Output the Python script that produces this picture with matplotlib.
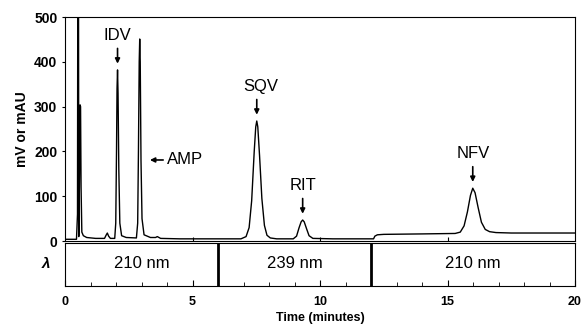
import matplotlib.pyplot as plt
from matplotlib.ticker import MultipleLocator

plt.rcParams['font.family'] = ['Liberation Sans', 'DejaVu Sans']

# chromatogram trace (time in min, signal in mV)
time_min = [0.00, 0.45, 0.49, 0.50, 0.53, 0.54, 0.57, 0.59, 0.61, 0.63, 0.66, 0.72, 0.85, 1.20,
            1.55, 1.61, 1.66, 1.71, 1.78, 1.95, 1.99, 2.02, 2.04, 2.06, 2.08, 2.11, 2.15, 2.22, 2.40,
            2.80, 2.85, 2.88, 2.91, 2.93, 2.95, 2.98, 3.02, 3.10, 3.35, 3.55, 3.62, 3.75, 4.50,
            6.90, 7.10, 7.22, 7.32, 7.42, 7.48, 7.52, 7.56, 7.63, 7.72, 7.82, 7.92, 8.05, 8.30,
            8.95, 9.08, 9.18, 9.26, 9.32, 9.38, 9.47, 9.57, 9.72, 10.5,
            12.10, 12.15, 12.25, 12.50, 14.0, 15.30, 15.50, 15.65, 15.78, 15.90, 15.99, 16.08,
            16.20, 16.33, 16.48, 16.65, 16.90, 17.5, 20.0]
signal_mv = [4, 4, 60, 540, 540, 10, 150, 304, 300, 120, 20, 12, 8, 6,
             6, 13, 18, 11, 6, 6, 40, 200, 340, 382, 330, 160, 40, 12, 8,
             7, 40, 200, 400, 451, 400, 180, 50, 14, 8, 8, 10, 6, 5,
             5, 10, 30, 90, 200, 255, 268, 255, 190, 95, 35, 13, 7, 5,
             5, 11, 30, 43, 47, 43, 28, 12, 6, 5,
             5, 11, 14, 15, 16, 17, 20, 34, 65, 102, 118, 108,
             75, 42, 26, 21, 19, 18, 18]

# peak labels: (name, peak time, peak height)
peak_names = ['IDV', 'SQV', 'RIT', 'NFV']
peak_times = [2.06, 7.52, 9.32, 15.99]
peak_heights = [382, 268, 47, 118]
amp_time, amp_height = 2.95, 181

# detector wavelength program
wl_edges = [0, 6, 12, 20]
wl_labels = ['210 nm', '239 nm', '210 nm']

fig = plt.figure(figsize=(5.83, 3.28), dpi=100)
ax = fig.add_axes([0.1115, 0.265, 0.8748, 0.683])
ax2 = fig.add_axes([0.1115, 0.128, 0.8748, 0.132])

ax.plot(time_min, signal_mv, color='black', linewidth=1.0)
ax.set_xlim(0, 20)
ax.set_ylim(0, 500)
ax.set_xticks([5, 10, 15])
ax.tick_params(axis='x', direction='in', length=3, labelbottom=False)
ax.set_yticks([0, 100, 200, 300, 400, 500])
ax.tick_params(axis='y', direction='out', length=2, labelsize=10)
for lab in ax.get_yticklabels():
    lab.set_fontweight('bold')
ax.set_ylabel('mV or mAU', fontsize=10, fontweight='bold', labelpad=4)

for name, t, h in zip(peak_names, peak_times, peak_heights):
    ax.annotate('', xy=(t, h + 14), xytext=(t, h + 48),
                arrowprops=dict(arrowstyle='-|>', color='black', lw=1.2,
                                mutation_scale=7, shrinkA=0, shrinkB=0))
    ax.text(t + (0.15 if name == 'SQV' else 0), h + 60, name, ha='center',
            va='bottom', fontsize=12)
ax.annotate('', xy=(amp_time + 0.38, amp_height), xytext=(amp_time + 0.9, amp_height),
            arrowprops=dict(arrowstyle='-|>', color='black', lw=1.2,
                            mutation_scale=7, shrinkA=0, shrinkB=0))
ax.text(amp_time + 1.05, amp_height, 'AMP', ha='left', va='center', fontsize=12)

ax2.set_xlim(0, 20)
ax2.set_ylim(0, 1)
ax2.set_yticks([])
ax2.xaxis.set_major_locator(MultipleLocator(5))
ax2.xaxis.set_minor_locator(MultipleLocator(1))
ax2.tick_params(axis='x', which='major', direction='in', length=4, labelsize=9, pad=7)
ax2.tick_params(axis='x', which='minor', direction='in', length=3)
for lab in ax2.get_xticklabels():
    lab.set_fontweight('bold')
for e in wl_edges[1:-1]:
    ax2.axvline(e, color='black', linewidth=2)
for i, lab in enumerate(wl_labels):
    ax2.text((wl_edges[i] + wl_edges[i + 1]) / 2, 0.52, lab, ha='center', va='center',
             fontsize=12)
ax2.set_ylabel('λ', rotation=0, fontsize=11, fontstyle='italic', fontweight='bold',
               labelpad=14, va='center')
ax2.set_xlabel('Time (minutes)', fontsize=9, fontweight='bold', labelpad=3)

fig.savefig('out.png', dpi=100)
